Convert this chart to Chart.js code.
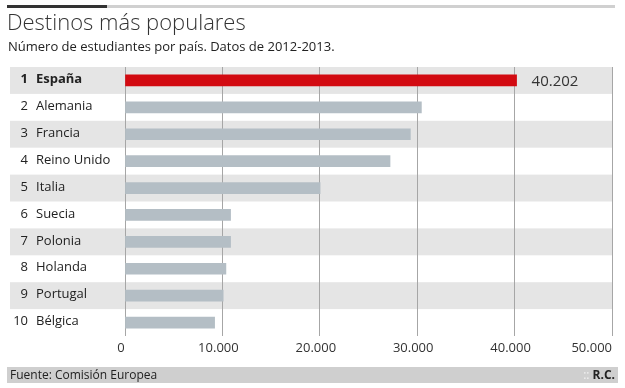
<!DOCTYPE html>
<html lang="es">
<head>
    <meta charset="UTF-8">
    <title>Destinos más populares</title>
    <script src="https://cdn.jsdelivr.net/npm/chart.js@4.4.0/dist/chart.umd.min.js"></script>
    <style>
        body { margin: 0; width: 625px; height: 388px; overflow: hidden; background: #fff; font-family: 'Open Sans', sans-serif; color: #333; }
        .topline { position: absolute; left: 7px; top: 5px; width: 608px; height: 3px; background: #d0d0d0; }
        .topline span { display: block; width: 100px; height: 3px; background: #333; }
        h1 { position: absolute; left: 7px; top: 6px; margin: 0; font-size: 22px; font-weight: 300; color: #333; }
        .sub { position: absolute; left: 8px; top: 37px; font-size: 13px; color: #222; }
        .chart-box { position: absolute; left: 0; top: 0; width: 625px; height: 388px; }
        .foot { position: absolute; left: 7px; top: 367px; width: 611px; height: 16px; background: #cfcfcf; font-size: 12px; line-height: 16px; color: #222; }
        .foot .src { position: absolute; left: 3px; }
        .foot .by { position: absolute; right: 3px; font-weight: bold; }
        .foot .by i { font-style: normal; font-weight: normal; color: #f2f2f2; }
    </style>
</head>
<body>
    <div class="chart-box"><canvas id="chart"></canvas></div>
    <div class="topline"><span></span></div>
    <h1>Destinos más populares</h1>
    <div class="sub">Número de estudiantes por país. Datos de 2012-2013.</div>
    <div class="foot"><span class="src">Fuente: Comisión Europea</span><span class="by"><i>:: </i>R.C.</span></div>

    <script>
        // data
        const ranks = ['1', '2', '3', '4', '5', '6', '7', '8', '9', '10'];
        const countries = ['España', 'Alemania', 'Francia', 'Reino Unido', 'Italia', 'Suecia', 'Polonia', 'Holanda', 'Portugal', 'Bélgica'];
        const students = [40202, 30430, 29300, 27210, 20030, 10840, 10840, 10360, 10080, 9200];
        const xTicks = [0, 10000, 20000, 30000, 40000, 50000];

        const fmt = v => String(v).replace(/\B(?=(\d{3})+(?!\d))/g, '.');

        Chart.defaults.font.family = "'Open Sans', sans-serif";

        // alternating row bands + country labels
        const rowsPlugin = {
            id: 'rows',
            beforeDraw(chart) {
                const { ctx, chartArea, scales } = chart;
                const h = (chartArea.bottom - chartArea.top) / countries.length;
                ctx.save();
                countries.forEach((c, i) => {
                    const cy = scales.y.getPixelForValue(i);
                    if (i % 2 === 0) {
                        ctx.fillStyle = '#e5e5e5';
                        ctx.fillRect(10, cy - h / 2, chartArea.right - 10, h);
                    }
                    ctx.fillStyle = '#222';
                    ctx.textBaseline = 'middle';
                    ctx.font = (i === 0 ? 'bold ' : '') + "13px 'Open Sans'";
                    ctx.textAlign = 'right';
                    ctx.fillText(ranks[i], 28, cy - 1);
                    ctx.textAlign = 'left';
                    ctx.fillText(c, 36, cy - 1);
                });
                ctx.restore();
            },
            afterDraw(chart) {
                const { ctx, chartArea, scales } = chart;
                ctx.save();
                ctx.fillStyle = '#333';
                ctx.font = "13px 'Open Sans'";
                ctx.textBaseline = 'middle';
                xTicks.forEach((t, i) => {
                    const x = scales.x.getPixelForValue(t);
                    if (i === xTicks.length - 1) {
                        ctx.textAlign = 'right';
                        ctx.fillText(fmt(t), x, chartArea.bottom + 12);
                    } else {
                        ctx.textAlign = 'center';
                        ctx.fillText(fmt(t), x - 4, chartArea.bottom + 12);
                    }
                });
                // value of the top bar
                ctx.font = "15px 'Open Sans'";
                ctx.textAlign = 'left';
                ctx.fillText(fmt(students[0]), scales.x.getPixelForValue(students[0]) + 15, scales.y.getPixelForValue(0) + 1);
                ctx.restore();
            }
        };

        new Chart(document.getElementById('chart'), {
            type: 'bar',
            data: {
                labels: countries,
                datasets: [{
                    data: students,
                    backgroundColor: students.map((v, i) => i === 0 ? '#d20a11' : '#b4bec5'),
                    barThickness: 11
                }]
            },
            options: {
                indexAxis: 'y',
                responsive: true,
                maintainAspectRatio: false,
                animation: false,
                layout: { padding: { top: 67, bottom: 52, right: 13, left: 0 } },
                plugins: { legend: { display: false }, tooltip: { enabled: false } },
                scales: {
                    x: {
                        min: 0,
                        max: 50000,
                        ticks: { display: false, stepSize: 10000 },
                        grid: { color: '#a6a6a6', drawTicks: false },
                        border: { display: false },
                        afterFit(scale) { scale.height = 0; }
                    },
                    y: {
                        ticks: { display: false },
                        grid: { display: false },
                        border: { display: false },
                        afterFit(scale) { scale.width = 125; }
                    }
                }
            },
            plugins: [rowsPlugin]
        });
    </script>
</body>
</html>
